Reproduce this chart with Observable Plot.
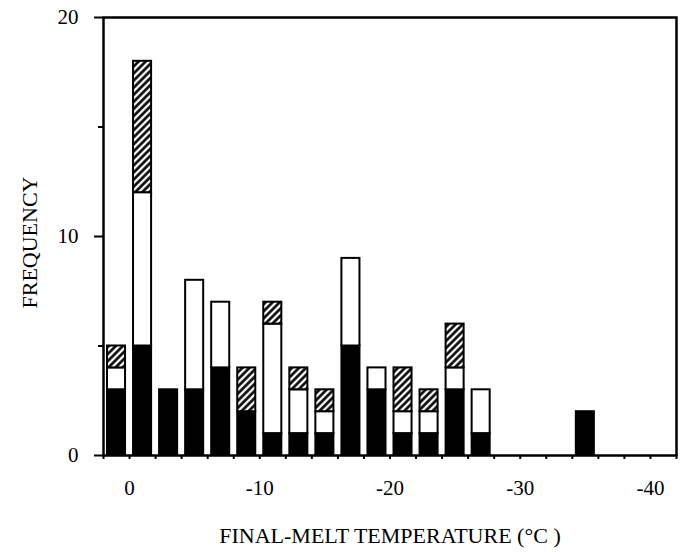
<!DOCTYPE html>
<html>
<head>
<meta charset="utf-8">
<script src="https://cdn.jsdelivr.net/npm/d3@7"></script>
<script src="https://cdn.jsdelivr.net/npm/@observablehq/plot@0.6"></script>
<style>
  html, body { margin: 0; padding: 0; background: white; }
</style>
</head>
<body>
<div id="chart"></div>
<script>
// Upper edge (warm side) of each 2 °C bin
const binTop = [2, 0, -2, -4, -6, -8, -10, -12, -14, -16, -18, -20, -22, -24, -26, -34];
const binWidth = 2;
const blackCounts   = [3, 5, 3, 3, 4, 2, 1, 1, 1, 5, 3, 1, 1, 3, 1, 2];
const whiteCounts   = [1, 7, 0, 5, 3, 0, 5, 2, 1, 4, 1, 1, 1, 1, 2, 0];
const hatchedCounts = [1, 6, 0, 0, 0, 2, 1, 1, 1, 0, 0, 2, 1, 2, 0, 0];
const types = ["black", "white", "hatched"];
const xTicks = d3.range(2, -43, -2);
const xLabelTicks = [0, -10, -20, -30, -40];
const yMajorTicks = [0, 10, 20];
const yMinorTicks = [5, 15];
const xTitle = "FINAL-MELT TEMPERATURE (°C )";
const yTitle = "FREQUENCY";

const series = {black: blackCounts, white: whiteCounts, hatched: hatchedCounts};
const segments = [];
binTop.forEach((t, i) => {
  for (const type of types) {
    const c = series[type][i];
    if (c > 0) segments.push({lo: t, hi: t - binWidth, type, count: c});
  }
});

const chart = Plot.plot({
  width: 687,
  height: 552,
  marginLeft: 103,
  marginRight: 11,
  marginTop: 17,
  marginBottom: 97,
  style: {fontFamily: "Liberation Serif", fontSize: "21px", background: "white", color: "black"},
  x: {domain: [2, -42]},
  y: {domain: [0, 20]},
  color: {domain: types, range: ["black", "white", "url(#hatch)"]},
  marks: [
    Plot.rectY(segments, {x1: "lo", x2: "hi", y: "count", fill: "type", stroke: "black", strokeWidth: 2, insetLeft: 4, insetRight: 4}),
    Plot.axisX({ticks: xTicks, tickSize: 4, tickPadding: 21, strokeWidth: 2,
      tickFormat: d => xLabelTicks.includes(d) ? String(d) : "", label: null}),
    Plot.axisY({ticks: yMajorTicks, tickSize: 9, tickPadding: 16, strokeWidth: 2, label: null,
      tickFormat: d => String(d)}),
    Plot.axisY({ticks: yMinorTicks, tickSize: 5, strokeWidth: 2, label: null, tickFormat: () => ""}),
    Plot.frame({strokeWidth: 2.5}),
    Plot.text([xTitle], {text: d => d, frameAnchor: "bottom", textAnchor: "middle", lineAnchor: "middle", dy: 80, fontSize: 22}),
    Plot.text([yTitle], {text: d => d, frameAnchor: "left", textAnchor: "middle", lineAnchor: "middle", rotate: -90, dx: -74, dy: 6, fontSize: 22})
  ]
});

const defs = d3.select(chart).insert("defs", ":first-child");
const pat = defs.append("pattern")
  .attr("id", "hatch")
  .attr("patternUnits", "userSpaceOnUse")
  .attr("width", 5).attr("height", 5)
  .attr("patternTransform", "rotate(45)");
pat.append("rect").attr("width", 5).attr("height", 5).attr("fill", "white");
pat.append("line").attr("x1", 1.5).attr("y1", 0).attr("x2", 1.5).attr("y2", 5)
  .attr("stroke", "black").attr("stroke-width", 2.6);

document.getElementById("chart").appendChild(chart);
</script>
</body>
</html>
